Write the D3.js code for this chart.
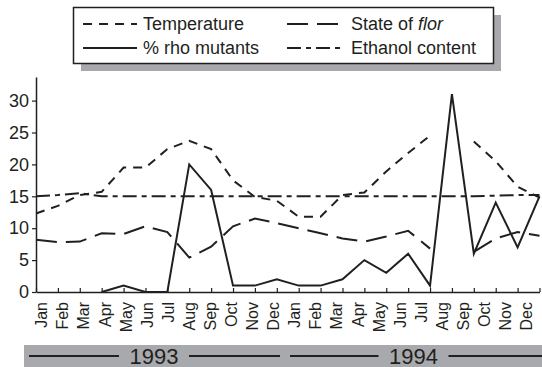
<!DOCTYPE html>
<html>
<head>
<meta charset="utf-8">
<script src="https://cdn.jsdelivr.net/npm/d3@7"></script>
<style>
  html, body { margin: 0; padding: 0; background: #fff; }
  svg { display: block; font-family: "Liberation Sans", Arial, Helvetica, sans-serif; }
</style>
</head>
<body>
<svg id="chart" width="542" height="367"></svg>
<script>
// ---- data ----
const months = ["Jan","Feb","Mar","Apr","May","Jun","Jul","Aug","Sep","Oct","Nov","Dec",
                "Jan","Feb","Mar","Apr","May","Jun","Jul","Aug","Sep","Oct","Nov","Dec"];
const years = ["1993", "1994"];
const yTicks = [0, 5, 10, 15, 20, 25, 30];
const temperature = [12.3,13.5,15.2,15.7,19.5,19.5,22.4,23.7,22.4,17.5,14.9,14.3,
                     11.8,11.8,15.2,15.6,18.9,21.8,24.5,null,23.6,20.5,16.5,14.8];
const rhoMutants  = [null,null,null,0,1,0,0,20,16,1,1,2,
                     1,1,2,5,3,6,1,31,6,14,7,15];
const flor        = [8.2,7.8,7.9,9.2,9.1,10.3,9.4,5.4,7.1,10.3,11.5,10.8,
                     10.0,9.2,8.4,7.9,8.7,9.6,6.8,null,6.3,8.4,9.4,8.8];
const ethanol     = [15.0,15.2,15.5,15.0,15.0,15.0,15.0,15.0,15.0,15.0,15.0,15.0,
                     15.0,15.0,15.0,15.0,15.0,15.0,15.0,15.0,15.0,15.1,15.2,15.2];
const seriesNames = ["Temperature", "% rho mutants", "State of flor", "Ethanol content"];

// ---- setup ----
const ink = "#231f20";
const gray = "#a7a9ac";
const svg = d3.select("#chart");

const x = d3.scaleLinear().domain([0, months.length - 1]).range([36, 539.5]);
const xLabel = d3.scaleLinear().domain([0, months.length - 1]).range([41.5, 526.5]);
const y = d3.scaleLinear().domain([0, 33.7]).range([292, 77]);

// ---- axes ----
const yAxis = svg.append("g").attr("transform", "translate(36,0)")
  .call(d3.axisLeft(y).tickValues(yTicks).tickSize(4).tickSizeOuter(0).tickPadding(3));
yAxis.select(".domain").attr("stroke", ink).attr("stroke-width", 1.5);
yAxis.selectAll(".tick line").attr("stroke", ink).attr("stroke-width", 1.2);
yAxis.selectAll(".tick text").attr("fill", ink).style("font-size", "18px")
  .style("font-family", "'Liberation Sans', Arial, sans-serif");

const xAxis = svg.append("g").attr("transform", "translate(0,292)")
  .call(d3.axisBottom(x).tickValues(d3.range(months.length)).tickSize(-4).tickSizeOuter(0).tickFormat(""));
xAxis.select(".domain").attr("stroke", ink).attr("stroke-width", 1.5);
xAxis.selectAll(".tick line").attr("stroke", ink).attr("stroke-width", 1.2);

// month labels
svg.append("g").selectAll("text").data(months).join("text")
  .attr("transform", (d, i) => `translate(${xLabel(i)},302) rotate(-90)`)
  .attr("text-anchor", "end")
  .attr("dy", "0.36em")
  .attr("fill", ink)
  .style("font-size", "16px")
  .text(d => d);

// ---- lines ----
const line = d3.line().defined(d => d != null).x((d, i) => x(i)).y(d => y(d));
const styles = {
  "Temperature":     { data: temperature, dash: "9,7" },
  "% rho mutants":   { data: rhoMutants,  dash: null },
  "State of flor":   { data: flor,        dash: "21,9" },
  "Ethanol content": { data: ethanol,     dash: "14,5,5,5" }
};
seriesNames.forEach(name => {
  const s = styles[name];
  svg.append("path")
    .datum(s.data)
    .attr("d", line)
    .attr("fill", "none")
    .attr("stroke", ink)
    .attr("stroke-width", 2)
    .attr("stroke-dasharray", s.dash);
});

// ---- legend ----
const lg = svg.append("g");
lg.append("rect").attr("x", 81).attr("y", 15).attr("width", 420).attr("height", 56).attr("fill", gray);
lg.append("rect").attr("x", 73.5).attr("y", 7.5).attr("width", 420).attr("height", 56)
  .attr("fill", "#fff").attr("stroke", ink).attr("stroke-width", 1.5);
const legendItems = [
  { name: "Temperature",     x0: 83,  x1: 137, tx: 143, ty: 30 },
  { name: "% rho mutants",   x0: 83,  x1: 137, tx: 143, ty: 54 },
  { name: "State of flor",   x0: 287, x1: 344, tx: 351, ty: 30 },
  { name: "Ethanol content", x0: 287, x1: 344, tx: 351, ty: 54 }
];
legendItems.forEach(it => {
  const s = styles[it.name];
  lg.append("line").attr("x1", it.x0).attr("x2", it.x1).attr("y1", it.ty - 6).attr("y2", it.ty - 6)
    .attr("stroke", ink).attr("stroke-width", 2).attr("stroke-dasharray", s.dash);
  const t = lg.append("text").attr("x", it.tx).attr("y", it.ty).attr("fill", ink).style("font-size", "18px");
  if (it.name === "State of flor") {
    t.append("tspan").text("State of ");
    t.append("tspan").style("font-style", "italic").text("flor");
  } else {
    t.text(it.name);
  }
});

// ---- year bar ----
const yb = svg.append("g");
yb.append("rect").attr("x", 24).attr("y", 345).attr("width", 518).attr("height", 22).attr("fill", gray);
const yearSpans = [
  { label: years[0], a: 29,  b: 280, tx: 154 },
  { label: years[1], a: 290, b: 542, tx: 413.5 }
];
yearSpans.forEach(s => {
  yb.append("line").attr("x1", s.a).attr("x2", s.tx - 35).attr("y1", 356).attr("y2", 356)
    .attr("stroke", ink).attr("stroke-width", 2);
  yb.append("line").attr("x1", s.tx + 35).attr("x2", s.b).attr("y1", 356).attr("y2", 356)
    .attr("stroke", ink).attr("stroke-width", 2);
  yb.append("text").attr("x", s.tx).attr("y", 363.5).attr("text-anchor", "middle")
    .attr("fill", ink).style("font-size", "22px").text(s.label);
});
</script>
</body>
</html>
